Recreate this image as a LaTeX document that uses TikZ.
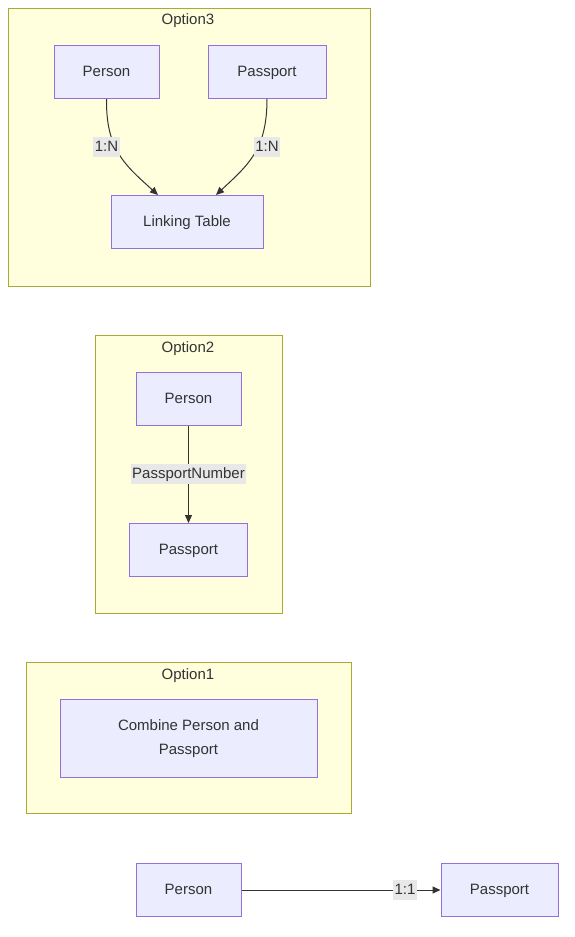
\documentclass[tikz,border=0pt]{standalone}
\usepackage{fontspec}
\setmainfont{Liberation Sans}
\usetikzlibrary{arrows.meta,positioning,calc}
\definecolor{clfill}{HTML}{FFFFDE}
\definecolor{cldraw}{HTML}{AAAA33}
\definecolor{ndfill}{HTML}{ECECFF}
\definecolor{nddraw}{HTML}{9370DB}
\definecolor{txt}{HTML}{333333}
\definecolor{lblbg}{HTML}{E8E8E8}
\begin{document}
\begin{tikzpicture}[x=1pt,y=-1pt,
  font=\fontsize{15}{18}\selectfont, text=txt,
  cluster/.style={draw=cldraw,fill=clfill,line width=1pt},
  ctitle/.style={inner sep=0pt,anchor=center,text height=11pt,text depth=3pt},
  box/.style={draw=nddraw,fill=ndfill,line width=1pt,minimum height=53pt,inner sep=0pt,align=center,text height=11pt,text depth=3pt},
  elbl/.style={fill=lblbg,inner xsep=1.5pt,inner ysep=0pt,text height=14pt,text depth=6pt},
  conn/.style={draw=txt,line width=1pt,-{Triangle[length=8pt,width=7pt]}}]
\useasboundingbox (0,0) rectangle (575,937);
\fill[white] (0,0) rectangle (575,937);
% Option3
\draw[cluster] (8,8) rectangle (370,286);
\node[ctitle] (t3) at (188,20) {Option3};
\node[box,minimum width=105pt] (p3) at (106.5,72) {Person};
\node[box,minimum width=118pt] (pp3) at (267,72) {Passport};
\node[box,minimum width=152pt] (lt) at (187,222) {Linking Table};
\draw[conn] (p3.south) .. controls (106,150) and (125,165) .. ([xshift=-29pt]lt.north);
\draw[conn] (pp3.south) .. controls (267,150) and (248,165) .. ([xshift=29pt]lt.north);
\node[elbl] (l31) at (106.5,147) {1:N};
\node[elbl] (l32) at (267,147) {1:N};
% Option2
\draw[cluster] (95,335) rectangle (282,613);
\node[ctitle] (t2) at (188,348) {Option2};
\node[box,minimum width=105pt] (p2) at (188.5,399) {Person};
\node[box,minimum width=118pt] (pp2) at (188.5,550) {Passport};
\draw[conn] (p2.south) -- (pp2.north);
\node[elbl] (l2) at (188.5,474) {PassportNumber};
% Option1
\draw[cluster] (26,662) rectangle (351,813);
\node[ctitle] (t1) at (188,675) {Option1};
\node[draw=nddraw,fill=ndfill,line width=1pt,inner sep=0pt,minimum width=257pt,minimum height=78pt,align=center,font=\fontsize{15}{24}\selectfont] (cb) at (188.5,738.5) {Combine Person and\\Passport};
% bottom
\node[box,minimum width=105pt] (p0) at (188.5,890) {Person};
\node[box,minimum width=117pt] (pp0) at (499.5,890) {Passport};
\draw[conn] (p0.east) -- (pp0.west);
\node[elbl] (l0) at (405,890) {1:1};
\end{tikzpicture}
\end{document}
